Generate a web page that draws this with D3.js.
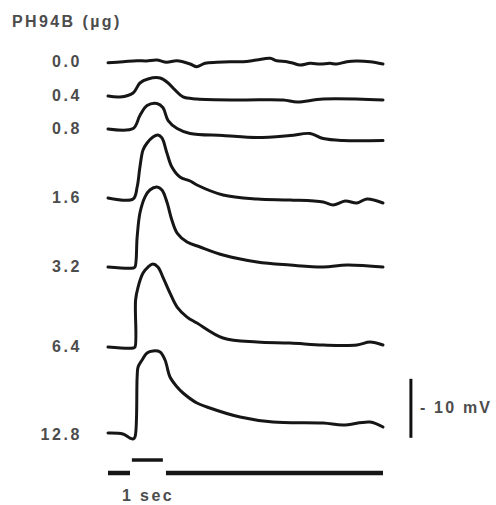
<!DOCTYPE html>
<html>
<head>
<meta charset="utf-8">
<script src="https://cdn.jsdelivr.net/npm/d3@7"></script>
<style>
  html, body { margin: 0; padding: 0; background: #fff; }
  svg text { font-family: "Liberation Sans", Arial, sans-serif; font-weight: bold; fill: #4c4c4c; }
</style>
</head>
<body>
<svg id="chart" width="496" height="505"></svg>
<script>
const W = 496, H = 505;

// doses, each trace is [time (s), mV relative to its own pre-stimulus baseline]
const doses = ["0.0", "0.4", "0.8", "1.6", "3.2", "6.4", "12.8"];
// vertical stacking offset of every trace (mV)
const traceOffset = [0, -5.76, -11.36, -23.05, -34.75, -48.31, -63.22];

const trace00 = [[0,-0.12],[0.49,0.05],[0.93,0.22],[1.24,0.17],[1.57,0.34],[1.89,-0.05],[2.22,0.22],[2.65,-0.34],[2.86,-0.8],[3.13,-0.22],[3.51,-0.05],[3.94,0.05],[4.36,0.05],[4.79,0.34],[5.23,0.63],[5.44,0.22],[5.77,0.05],[5.98,-0.22],[6.19,-0.51],[6.52,-0.22],[6.84,-0.34],[7.16,-0.22],[7.38,-0.34],[7.7,0.05],[8.02,0.17],[8.45,0.05],[8.87,-0.34]];
const trace04 = [[0,0],[0.39,-0.17],[0.81,0.51],[1.03,2.2],[1.29,2.88],[1.68,3.05],[1.94,2.2],[2.16,1.02],[2.42,-0.17],[2.87,-0.51],[4.26,-0.68],[5.65,-0.68],[6.1,-1.02],[6.94,-0.51],[8.87,-0.68]];
const trace08 = [[0,0],[0.81,0.08],[1.03,2.29],[1.26,3.98],[1.58,4.32],[1.77,3.64],[1.94,1.44],[2.23,0.08],[2.65,-0.76],[3.71,-1.1],[4.81,-1.44],[5.87,-1.1],[6.52,-0.76],[6.94,-1.61],[7.58,-1.95],[8.87,-1.95]];
const trace16 = [[0,0],[0.81,-0.17],[0.94,1.86],[1.03,5.25],[1.13,8.14],[1.26,9.32],[1.45,10.34],[1.61,10.68],[1.74,10.17],[1.9,7.63],[2.06,5.25],[2.32,3.56],[2.65,2.88],[2.87,2.2],[3.71,0.51],[4.81,-0.17],[5.87,-0.34],[6.94,-0.68],[7.26,-1.19],[7.65,-0.51],[8.03,-0.85],[8.35,-0.17],[8.87,-0.85]];
const trace32 = [[0,0],[0.81,-0.17],[0.87,0],[0.94,5.08],[1.03,9.15],[1.19,11.86],[1.35,13.05],[1.58,13.56],[1.74,13.05],[1.9,11.02],[2.06,7.97],[2.23,5.76],[2.55,4.24],[2.97,3.39],[3.71,2.03],[4.81,0.85],[5.87,0.34],[6.94,0],[7.71,0.34],[8.87,0]];
const trace64 = [[0,0],[0.81,-0.17],[0.87,0],[0.89,7.97],[0.97,10.17],[1.13,12.54],[1.29,13.56],[1.45,14.07],[1.61,13.56],[1.77,11.86],[2.0,9.15],[2.23,6.78],[2.55,5.08],[2.87,4.07],[3.71,1.53],[4.81,0.85],[5.87,0.68],[6.94,0.34],[8.03,0.34],[8.45,0.85],[8.87,0.34]];
const trace128 = [[0,0.34],[0.48,0.17],[0.71,-0.51],[0.81,-0.68],[0.87,-0.34],[0.94,9.83],[0.97,11.53],[1.1,12.71],[1.26,13.9],[1.45,14.24],[1.68,14.07],[1.84,12.71],[2.0,9.83],[2.23,8.14],[2.42,7.12],[2.87,5.42],[3.19,4.75],[4.26,3.05],[5.32,2.2],[6.94,2.03],[7.58,1.69],[8.45,2.2],[8.87,1.36]];
const traces = [trace00, trace04, trace08, trace16, trace32, trace64, trace128];

// stimulus marker: segments [t0, t1, level]  (level 1 = stimulus on)
const stimulus = [[0, 0.71, 0], [0.77, 1.77, 1], [1.87, 8.87, 0]];
const stimOffset = -69.66, stimStep = 2.2;   // mV units in the stacked layout
const timeBar = { t: 0.45, label: "1 sec" };
const scaleBar = { t: 9.77, from: -63.7, size: 10, label: "- 10 mV" };
const title = "PH94B (\u00b5g)";

const x = d3.scaleLinear().domain([0, 8.87]).range([108, 383]);
const y = d3.scaleLinear().domain([0, -10]).range([62, 121]);

const svg = d3.select("#chart");
const line = d3.line()
  .x(d => x(d[0]))
  .y(d => y(d[1]))
  .curve(d3.curveCatmullRom.alpha(0.5));

svg.append("text")
  .attr("x", 12).attr("y", 27)
  .attr("font-size", 16).attr("letter-spacing", 2.4)
  .text(title);

const rows = svg.append("g").selectAll("g")
  .data(doses.map((d, i) => ({ dose: d, off: traceOffset[i], pts: traces[i] })))
  .join("g");

rows.append("text")
  .attr("x", 82)
  .attr("y", d => y(d.off) + 5)
  .attr("text-anchor", "end")
  .attr("font-size", 16).attr("letter-spacing", 2.6)
  .text(d => d.dose);

rows.append("path")
  .attr("d", d => line(d.pts.map(p => [p[0], p[1] + d.off])))
  .attr("fill", "none")
  .attr("stroke", "#161616")
  .attr("stroke-width", 3)
  .attr("stroke-linejoin", "round")
  .attr("stroke-linecap", "round");

// stimulus bar
svg.append("g").selectAll("line")
  .data(stimulus)
  .join("line")
  .attr("x1", d => x(d[0])).attr("x2", d => x(d[1]))
  .attr("y1", d => y(stimOffset + d[2] * stimStep))
  .attr("y2", d => y(stimOffset + d[2] * stimStep))
  .attr("stroke", "#161616")
  .attr("stroke-width", d => d[2] ? 3.5 : 4.5);

svg.append("text")
  .attr("x", x(timeBar.t)).attr("y", 501)
  .attr("font-size", 16).attr("letter-spacing", 2.4)
  .text(timeBar.label);

// 10 mV scale bar
svg.append("line")
  .attr("x1", x(scaleBar.t)).attr("x2", x(scaleBar.t))
  .attr("y1", y(scaleBar.from)).attr("y2", y(scaleBar.from + scaleBar.size))
  .attr("stroke", "#111").attr("stroke-width", 3);

svg.append("text")
  .attr("x", x(scaleBar.t) + 9)
  .attr("y", y(scaleBar.from + scaleBar.size / 2) + 5)
  .attr("font-size", 16).attr("letter-spacing", 2.2)
  .text(scaleBar.label);
</script>
</body>
</html>
